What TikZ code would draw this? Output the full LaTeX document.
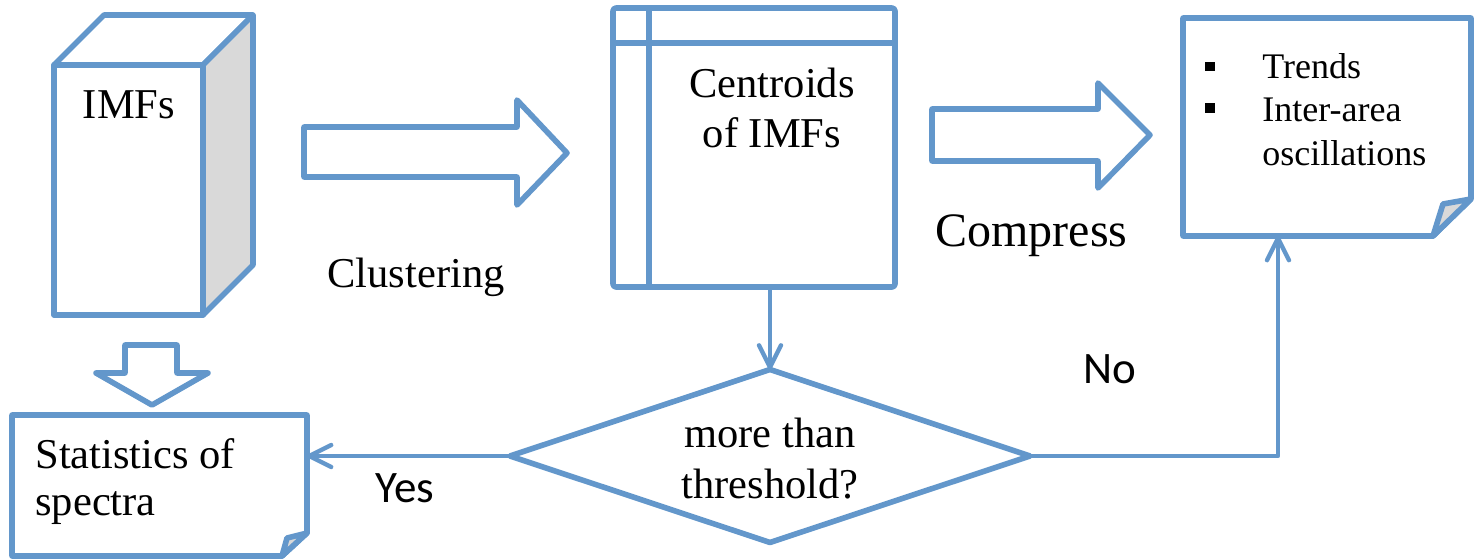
\documentclass[tikz,border=0pt]{standalone}
\usepackage{fontspec}
\setmainfont{Liberation Serif}
\newfontfamily\labelsans{Carlito}
\usetikzlibrary{shapes.geometric,arrows.meta}
\definecolor{flowblue}{RGB}{99,151,203}
\definecolor{foldgray}{RGB}{217,217,217}

\begin{document}
\begin{tikzpicture}[x=0.5pt,y=-0.5pt,
  outline/.style={draw=flowblue,line width=2.8pt,line join=round},
  conn/.style={draw=flowblue,line width=2.2pt,line cap=round,line join=round,
    -{Straight Barb[length=11pt,width=11pt,round]}},
  anchorbox/.style={inner sep=0pt,outer sep=0pt},
  txt/.style={inner sep=0pt,text=black,font=\fontsize{21.25}{25}\selectfont},
  listtxt/.style={inner sep=0pt,text=black,font=\fontsize{18}{21.75}\selectfont},
  yesno/.style={inner sep=0pt,text=black,font=\labelsans\fontsize{22.5}{27}\selectfont}]

\useasboundingbox (0,0) rectangle (1474,559);

% --- IMFs cuboid ---
\draw[outline,fill=white] (54,65) -- (104,15) -- (253,15) -- (203,65) -- cycle;
\draw[outline,fill=foldgray] (203,65) -- (253,15) -- (253,265) -- (203,315) -- cycle;
\node[outline,fill=white,anchorbox,anchor=north west,
      minimum width=74.5pt,minimum height=125pt] (imfs) at (54,65) {};
\node[txt,anchor=base] (imfslbl) at (129,118) {IMFs};

% --- block arrow down to the statistics document ---
\draw[outline,fill=white] (125,345) -- (177,345) -- (177,373) -- (208,373)
  -- (152,405) -- (96,373) -- (125,373) -- cycle;

% --- block arrow: clustering ---
\draw[outline,fill=white] (304,127) -- (517,127) -- (517,100) -- (567,153)
  -- (517,205) -- (517,177) -- (304,177) -- cycle;
\node[txt,anchor=base west] (clust) at (327,287) {Clustering};

% --- internal storage: centroids ---
\node[outline,anchorbox,rounded corners=1.5pt,anchor=north west,
      minimum width=141pt,minimum height=139.5pt] (store) at (613,8) {};
\draw[outline] (store.north west |- 0,43) -- (store.north east |- 0,43);
\draw[outline] (649,0 |- store.north) -- (649,0 |- store.south);
\node[txt,anchor=north,align=center] (centr) at (772,68) {Centroids\\of IMFs};

% --- block arrow: compress ---
\draw[outline,fill=white] (932,109) -- (1098,109) -- (1098,83) -- (1150,135)
  -- (1098,188) -- (1098,161) -- (932,161) -- cycle;
\node[inner sep=0pt,anchor=base west,font=\fontsize{24}{28}\selectfont]
  (compress) at (935,246) {Compress};

% --- output document: trends ---
\node[anchorbox,minimum width=144.5pt,minimum height=109pt] (doc2) at (1327.5,127) {};
\draw[outline,fill=white] (1183,18) -- (1471,18) -- (1471,199) -- (1433,236)
  -- (1183,236) -- cycle;
\draw[outline,fill=foldgray] (1433,236) -- (1443,204) -- (1471,199) -- cycle;
\fill[black] (1205,62) rectangle (1215,71);
\fill[black] (1205,103) rectangle (1215,113);
\node[listtxt,anchor=north west,align=left] (trends) at (1262,53)
  {Trends\\Inter-area\\oscillations};

% --- statistics document ---
\node[anchorbox,minimum width=147.5pt,minimum height=71pt] (doc1) at (159.5,486) {};
\draw[outline,fill=white] (12,415) -- (307,415) -- (307,533) -- (282,556)
  -- (12,556) -- cycle;
\draw[outline,fill=foldgray] (282,556) -- (287,538) -- (307,533) -- cycle;
\node[inner sep=0pt,anchor=north west,align=left,font=\fontsize{21.25}{23.5}\selectfont]
  (stats) at (35,438) {Statistics of\\spectra};

% --- decision ---
\node[diamond,outline,anchorbox,aspect=3,minimum width=260pt,minimum height=86.5pt]
  (dec) at (770,456) {};
\node[inner sep=0pt,anchor=north,align=center,font=\fontsize{21.25}{25.5}\selectfont]
  (dectxt) at (770,418) {more than\\threshold?};

% --- connectors ---
\draw[conn] (store.south -| dec.north) -- (dec.north);
\draw[conn] (dec.west) -- (dec.west -| doc1.east);
\coordinate (turn) at (1278,456);
\draw[conn] (dec.east) -- (turn) -- (turn |- doc2.south);

\node[yesno,anchor=base west] (yes) at (375,502) {Yes};
\node[yesno,anchor=base west] (no) at (1083,383) {No};
\end{tikzpicture}
\end{document}
